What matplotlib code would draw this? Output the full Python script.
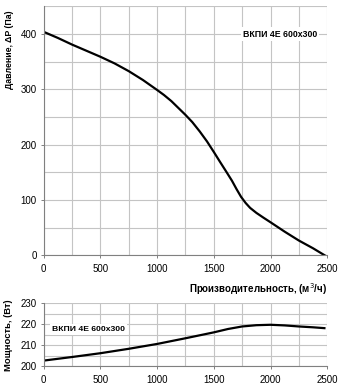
import matplotlib
matplotlib.use("Agg")
import matplotlib.pyplot as plt
from matplotlib.ticker import MultipleLocator

plt.rcParams["font.family"] = ["Liberation Sans", "DejaVu Sans"]

# Pressure curve (Па) vs airflow (м³/ч)
flow_p = [0, 125, 250, 375, 500, 625, 750, 875, 1000, 1060, 1125, 1190,
          1250, 1310, 1376, 1440, 1500, 1555, 1611, 1660, 1700, 1740,
          1780, 1820, 1875, 1940, 2000, 2125, 2250, 2375, 2480]
pressure = [404, 393, 381, 370, 359, 347, 333, 317, 299, 290, 279, 266,
            254, 241, 224, 206, 187, 169, 151, 135, 120, 106,
            95, 86, 77, 68, 60, 43, 27, 13, 0]

# Power curve (Вт) vs airflow
flow_w = [0, 250, 500, 750, 1000, 1250, 1500, 1625, 1750, 1875, 2000, 2125,
          2250, 2375, 2475]
power = [202.8, 204.5, 206.3, 208.4, 210.7, 213.4, 216.2, 217.8, 219.0,
         219.6, 219.8, 219.5, 219.0, 218.6, 218.2]

model = "ВКПИ 4Е 600x300"
GRID = "#c4c4c4"
SPINE = "#808080"

fig = plt.figure(figsize=(3.4, 3.87), dpi=100)
ax_p = fig.add_axes([0.1285, 0.3398, 0.834, 0.6437])
ax_w = fig.add_axes([0.1285, 0.0530, 0.834, 0.1633])


def style(ax, ymaj, ymin):
    ax.xaxis.set_major_locator(MultipleLocator(500))
    ax.xaxis.set_minor_locator(MultipleLocator(250))
    ax.yaxis.set_major_locator(MultipleLocator(ymaj))
    ax.yaxis.set_minor_locator(MultipleLocator(ymin))
    ax.grid(True, which="both", color=GRID, linewidth=0.8)
    ax.set_axisbelow(True)
    for side in ("top", "right"):
        ax.spines[side].set_visible(False)
    for side in ("left", "bottom"):
        ax.spines[side].set_color(SPINE)
        ax.spines[side].set_linewidth(0.8)
    ax.tick_params(which="major", length=2, width=0.7, color=SPINE,
                   labelsize=7, pad=3)
    ax.tick_params(which="minor", length=0)


# --- Top: pressure ---------------------------------------------------------
ax_p.plot(flow_p, pressure, color="black", linewidth=1.6)
ax_p.set_xlim(0, 2500)
ax_p.set_ylim(0, 450)
style(ax_p, 100, 50)
ax_p.tick_params(axis="x", pad=4)
ax_p.set_ylabel("Давление, ΔP (Па)", fontsize=6.3, fontweight="bold", loc="top")
ax_p.yaxis.set_label_coords(-0.105, 0.985)
ax_p.set_xlabel("Производительность, (м$^3$/ч)", fontsize=7,
                fontweight="bold", loc="right", labelpad=5)
ax_p.text(2085, 400, model, fontsize=6.3, fontweight="bold", ha="center",
          va="center", bbox=dict(facecolor="white", edgecolor="none", pad=1.5))

# --- Bottom: power ---------------------------------------------------------
ax_w.plot(flow_w, power, color="black", linewidth=1.6)
ax_w.set_xlim(0, 2500)
ax_w.set_ylim(200, 230)
style(ax_w, 10, 5)
ax_w.tick_params(axis="x", pad=4)
ax_w.set_ylabel("Мощность, (Вт)", fontsize=6.8, fontweight="bold")
ax_w.yaxis.set_label_coords(-0.108, 0.5)
ax_w.text(73, 217.5, model, fontsize=6.1, fontweight="bold", ha="left",
          va="center", bbox=dict(facecolor="white", edgecolor="none", pad=1.5))

fig.savefig("out.png", dpi=100)
